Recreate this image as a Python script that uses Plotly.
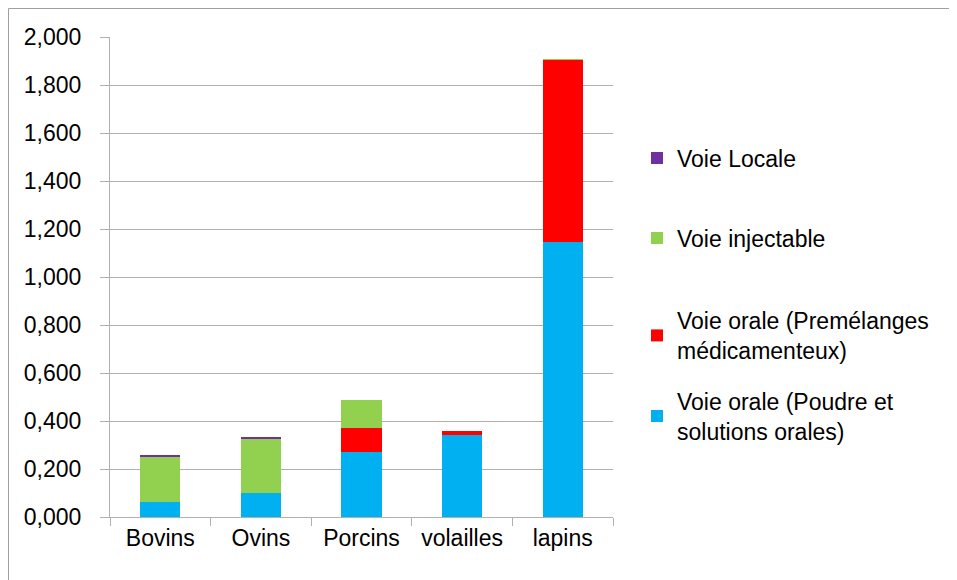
import plotly.graph_objects as go

categories = ["Bovins", "Ovins", "Porcins", "volailles", "lapins"]
oral_poudre = [0.063, 0.099, 0.272, 0.340, 1.146]
oral_premel = [0.000, 0.000, 0.099, 0.018, 0.760]
injectable = [0.189, 0.226, 0.118, 0.000, 0.001]
locale = [0.004, 0.007, 0.000, 0.000, 0.000]
y_ticks = [0, 0.2, 0.4, 0.6, 0.8, 1.0, 1.2, 1.4, 1.6, 1.8, 2.0]

OFF = 8  # page body offset in browser
W, H = 957 - OFF, 580 - OFF
# target plot area in page pixels: x 110..613, y 37..517
L, T = 110 - OFF, 37 - OFF
R = W - (613 - OFF)
B = H - (517 - OFF)
FONT = "Liberation Sans"
FS = 23

series = [
    ("Voie orale (Poudre et<br>solutions orales)", oral_poudre, "#00B0F0", "legend4", 416),
    ("Voie orale (Premélanges<br>médicamenteux)", oral_premel, "#FF0000", "legend3", 335.5),
    ("Voie injectable", injectable, "#92D050", "legend2", 238),
    ("Voie Locale", locale, "#7030A0", "legend", 158),
]

fig = go.Figure()
legends = {}
for name, vals, col, lg, ypx in series:
    fig.add_trace(go.Bar(x=categories, y=vals, name=name, marker_color=col,
                         marker_line_width=0, legend=lg))
    legends[lg] = dict(
        x=(637 - OFF) / W, xref="container", xanchor="left",
        y=1 - (ypx - OFF) / H, yref="container", yanchor="middle",
        font=dict(family=FONT, size=FS, color="#000000"),
        bgcolor="rgba(0,0,0,0)", borderwidth=0,
    )

# chart border: only left and top edges are visible in the frame
pw = W - L - R
ph = H - T - B
bx = (0.5 - L) / pw
by = (H - B - 0.5) / ph
bright = (W - L) / pw
bbottom = -B / ph
border = dict(color="#a0a0a0", width=1)
fig.add_shape(type="line", xref="paper", yref="paper", x0=bx, x1=bx, y0=bbottom, y1=by,
              line=border, layer="below")
fig.add_shape(type="line", xref="paper", yref="paper", x0=bx, x1=bright, y0=by, y1=by,
              line=border, layer="below")

fig.update_layout(
    width=W, height=H,
    margin=dict(l=L, r=R, t=T, b=B, pad=0),
    barmode="stack", bargap=0.6,
    paper_bgcolor="white", plot_bgcolor="white",
    separators=",.",
    font=dict(family=FONT, size=FS, color="#000000"),
    showlegend=True,
    **legends,
)
fig.update_xaxes(
    showline=True, linecolor="#b0b0b0", linewidth=1,
    ticks="outside", tickson="boundaries", ticklen=8, tickcolor="#b0b0b0",
    tickfont=dict(family=FONT, size=FS), showgrid=False,
)
fig.update_yaxes(
    range=[0, 2.0], tickvals=y_ticks, tickformat=".3f",
    showline=True, linecolor="#b0b0b0", linewidth=1,
    ticks="outside", ticklen=9, tickcolor="#b0b0b0",
    showgrid=True, gridcolor="#b0b0b0", gridwidth=1, zeroline=False,
    ticklabelstandoff=14,
    tickfont=dict(family=FONT, size=FS),
)
fig.write_html("out.html")
